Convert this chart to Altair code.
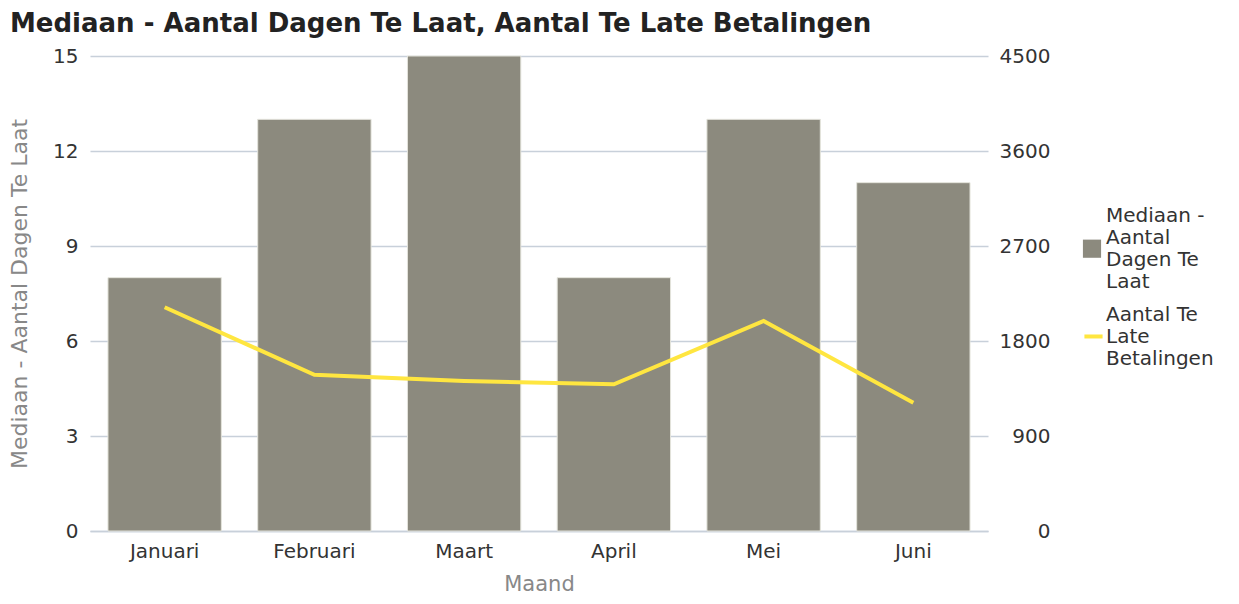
import altair as alt
import pandas as pd

maanden = ["Januari", "Februari", "Maart", "April", "Mei", "Juni"]
mediaan_dagen = [8, 13, 15, 8, 13, 11]
aantal_te_laat = [2120, 1480, 1420, 1390, 1990, 1215]

bar_name = "Mediaan - Aantal Dagen Te Laat"
line_name = "Aantal Te Late Betalingen"

df = pd.DataFrame({
    "Maand": maanden,
    "dagen": mediaan_dagen,
    "aantal": aantal_te_laat,
    "s_bar": [bar_name] * 6,
    "s_line": [line_name] * 6,
})

FONT = "DejaVu Sans"
LBL = 20

xenc = alt.X("Maand:N", sort=maanden,
             scale=alt.Scale(paddingInner=0.243, paddingOuter=0.12),
             axis=alt.Axis(title="Maand", labelAngle=0, labelFontSize=LBL, labelColor="#333333",
                           titleFontSize=21, titleColor="#888888", titleFontWeight="normal",
                           domainColor="#c8d0da", domainWidth=1.5, ticks=False, labelPadding=10,
                           titlePadding=12, grid=False))

# custom symbol paths (unit coords), shifted down so the symbol sits at the middle of the wrapped label
sq_path = "M-1,2.6H1V4.6H-1Z"
ln_path = "M-1,2.42H1"

bars = alt.Chart(df).mark_bar(stroke="#e4e4dc", strokeWidth=1).encode(
    x=xenc,
    y=alt.Y("dagen:Q", scale=alt.Scale(domain=[0, 15]),
            axis=alt.Axis(title=bar_name, values=[0, 3, 6, 9, 12, 15], labelFontSize=LBL,
                          labelColor="#333333", titleFontSize=22, titleColor="#888888",
                          titleFontWeight="normal", domain=False, ticks=False,
                          gridColor="#c8d0da", gridWidth=1.5, labelPadding=12, titlePadding=21)),
    fill=alt.Fill("s_bar:N", scale=alt.Scale(range=["#8c8a7e"]),
                  legend=alt.Legend(title=None, symbolType=sq_path, symbolSize=330,
                                    symbolStrokeWidth=0,
                                    labelFontSize=LBL, labelColor="#333333",
                                    labelExpr="['Mediaan -', 'Aantal', 'Dagen Te', 'Laat']",
                                    labelLimit=200, orient="none", legendX=992, legendY=150)),
)

line = alt.Chart(df).mark_line(strokeWidth=4).encode(
    x=alt.X("Maand:N", sort=maanden),
    y=alt.Y("aantal:Q", scale=alt.Scale(domain=[0, 4500]),
            axis=alt.Axis(title=None, orient="right", values=[0, 900, 1800, 2700, 3600, 4500],
                          format="d", labelFontSize=LBL, labelColor="#333333", domain=False,
                          ticks=False, grid=False, labelPadding=62, labelAlign="right")),
    stroke=alt.Stroke("s_line:N", scale=alt.Scale(range=["#ffe640"]),
                      legend=alt.Legend(title=None, symbolType=ln_path, symbolStrokeWidth=4,
                                        symbolSize=330, labelFontSize=LBL, labelColor="#333333",
                                        symbolFillColor="transparent", labelOffset=1,
                                        labelExpr="['Aantal Te', 'Late', 'Betalingen']",
                                        labelLimit=200, orient="none", legendX=992, legendY=247)),
)

chart = alt.layer(bars, line).resolve_scale(
    y="independent", fill="independent", stroke="independent"
).properties(
    width=898, height=475,
    autosize=alt.AutoSizeParams(type="none"),
    padding={"left": 82, "top": 48, "right": 243, "bottom": 65},
    title=alt.Title(bar_name + ", " + line_name, anchor="start", frame="group", dx=-80,
                    fontSize=26, font=FONT, fontWeight="bold", color="#222222", offset=9),
).configure(font=FONT).configure_view(stroke=None).configure_legend(
    labelFont=FONT
).configure_axis(labelFont=FONT, titleFont=FONT)

chart.save("out.html", embed_options={"renderer": "svg", "actions": False})
